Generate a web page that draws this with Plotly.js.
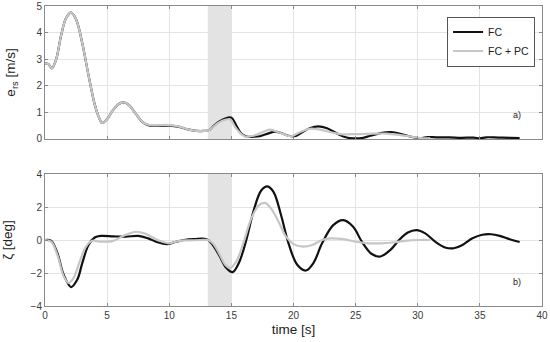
<!DOCTYPE html>
<html>
<head>
<meta charset="utf-8">
<script src="https://cdn.plot.ly/plotly-3.0.1.min.js"></script>
<style>html,body{margin:0;padding:0;background:#fff;}#chart{width:550px;height:342px;}</style>
</head>
<body>
<div id="chart"></div>
<script>
// ---- data ----
const seriesNames = ["FC", "FC + PC"];
const shadedInterval = [13.1, 15.0];

const tErsFC = [0,0.3,0.55,0.9,1.3,1.7,2.1,2.5,3.0,3.5,4.0,4.35,4.6,5.0,5.5,6.0,6.4,6.8,7.3,7.8,8.3,9.0,10.0,10.8,11.5,12.2,12.8,13.2,13.6,14.0,14.5,15.0,15.4,15.8,16.2,16.8,17.3,17.8,18.5,19.0,19.6,20.1,20.6,21.3,22.0,22.7,23.5,24.2,24.8,25.5,26.2,27.0,27.8,28.5,29.3,30.2,30.8,31.5,32.5,33.5,34.5,35.0,35.5,36.5,37.5,38.2];
const ersFC  = [2.85,2.8,2.65,3.0,3.9,4.55,4.75,4.5,3.6,2.4,1.3,0.8,0.6,0.75,1.1,1.33,1.37,1.25,0.95,0.65,0.52,0.5,0.5,0.45,0.36,0.3,0.3,0.33,0.5,0.65,0.77,0.8,0.5,0.2,0.09,0.08,0.1,0.18,0.27,0.22,0.12,0.1,0.22,0.4,0.47,0.4,0.2,0.06,0.02,0.03,0.12,0.22,0.26,0.2,0.1,0.03,0.07,0.06,0.06,0.04,0.05,0.02,0.06,0.05,0.04,0.03];

const tErsPC = [0,0.3,0.55,0.9,1.3,1.7,2.1,2.5,3.0,3.5,4.0,4.35,4.6,5.0,5.5,6.0,6.4,6.8,7.3,7.8,8.3,9.0,10.0,10.8,11.5,12.2,12.8,13.2,13.6,14.0,14.5,14.9,15.3,15.8,16.2,16.8,17.5,18.1,18.5,19.2,19.8,20.5,21.3,22.0,23.0,23.8,25.0,26.5,27.5,28.5,29.5,30.5,31.0];
const ersPC  = [2.85,2.8,2.65,3.0,3.9,4.55,4.75,4.5,3.6,2.4,1.3,0.8,0.6,0.75,1.1,1.33,1.37,1.25,0.95,0.65,0.53,0.52,0.52,0.46,0.36,0.3,0.3,0.33,0.48,0.62,0.72,0.74,0.45,0.18,0.08,0.12,0.25,0.35,0.3,0.18,0.1,0.25,0.38,0.36,0.25,0.18,0.18,0.2,0.2,0.15,0.08,0.02,0.03];

const tZetaFC = [0,0.5,1.0,1.5,2.1,2.6,3.0,3.5,4.0,4.5,5.5,6.5,7.5,8.3,9.0,9.8,10.5,11.2,12.0,13.0,13.4,14.0,14.6,15.1,15.6,16.2,16.8,17.4,17.9,18.4,19.0,19.6,20.3,21.0,21.6,22.3,23.2,24.0,24.8,25.5,26.3,27.0,27.8,28.5,29.2,29.9,30.6,31.4,32.2,32.9,33.6,34.4,35.2,35.9,36.6,37.4,38.2];
const zetaFC  = [0,-0.05,-0.8,-2.1,-2.85,-2.4,-1.4,-0.3,0.15,0.25,0.22,0.2,0.25,0.1,-0.12,-0.25,-0.12,0.0,0.05,0.05,-0.2,-0.9,-1.7,-1.95,-1.4,0.0,1.8,3.0,3.25,2.9,1.5,-0.2,-1.5,-1.85,-1.4,-0.2,0.9,1.2,0.8,-0.1,-0.85,-1.0,-0.6,0.0,0.45,0.6,0.4,-0.1,-0.45,-0.5,-0.3,0.1,0.32,0.35,0.25,0.05,-0.12];

const tZetaPC = [0,0.5,1.0,1.5,1.9,2.3,2.8,3.3,3.8,4.5,5.5,6.3,7.3,8.0,8.8,9.5,10.0,10.8,11.5,12.5,13.1,13.5,14.0,14.5,14.9,15.4,16.0,16.6,17.2,17.7,18.2,18.8,19.4,20.0,20.8,21.5,22.3,23.0,24.0,25.0,26.0,27.0,28.0,29.0,30.0,31.0];
const zetaPC  = [0,-0.1,-0.9,-2.2,-2.6,-2.3,-1.3,-0.4,-0.05,-0.1,-0.05,0.25,0.5,0.4,0.1,-0.12,-0.2,-0.05,-0.02,0.0,0.0,-0.2,-0.8,-1.5,-1.7,-1.3,-0.1,1.3,2.1,2.25,1.9,1.1,0.2,-0.25,-0.4,-0.3,0.0,0.1,0.05,-0.1,-0.2,-0.2,-0.15,-0.05,0.0,0.0];

const xTicks = [0,5,10,15,20,25,30,35,40];
const ersTicks = [0,1,2,3,4,5];
const zetaTicks = [-4,-2,0,2,4];

// ---- styles ----
const black = "#111111", gray = "#c6c6c6";
const fam = "Liberation Sans, Arial, sans-serif";
const tickFont = {family: fam, size: 10, color: "#3a3a3a"};
const titleFont = {family: fam, size: 13.5, color: "#222"};

const traces = [
  {x: tErsFC, y: ersFC, name: seriesNames[0], xaxis: "x", yaxis: "y", mode: "lines",
   line: {color: black, width: 2.2, shape: "spline", smoothing: 1}},
  {x: tErsPC, y: ersPC, name: seriesNames[1], xaxis: "x", yaxis: "y", mode: "lines",
   line: {color: gray, width: 2.2, shape: "spline", smoothing: 1}},
  {x: tZetaFC, y: zetaFC, name: seriesNames[0], xaxis: "x2", yaxis: "y2", mode: "lines", showlegend: false,
   line: {color: black, width: 2.2, shape: "spline", smoothing: 1}},
  {x: tZetaPC, y: zetaPC, name: seriesNames[1], xaxis: "x2", yaxis: "y2", mode: "lines", showlegend: false,
   line: {color: gray, width: 2.2, shape: "spline", smoothing: 1}}
];

const axisCommon = {
  showline: true, linecolor: "#8a8a8a", linewidth: 1, mirror: "ticks",
  ticks: "inside", ticklen: 3, tickcolor: "#8a8a8a",
  showgrid: true, gridcolor: "#e4e4e4", gridwidth: 1, zeroline: false,
  tickfont: tickFont
};

const layout = {
  width: 550, height: 342,
  margin: {l: 45, r: 8, t: 6, b: 36},
  paper_bgcolor: "#fff", plot_bgcolor: "#fff",
  showlegend: true,
  legend: {x: 0.809, y: 0.965, xanchor: "left", yanchor: "top",
           bordercolor: "#555", borderwidth: 1, bgcolor: "#fff",
           font: {family: fam, size: 10.5, color: "#222"},
           itemwidth: 30, tracegroupgap: 0},
  xaxis: Object.assign({}, axisCommon, {domain: [0, 1], range: [0, 40], tickvals: xTicks,
           showticklabels: false, anchor: "y"}),
  yaxis: Object.assign({}, axisCommon, {domain: [0.557, 1], range: [0, 5], tickvals: ersTicks,
           anchor: "x", title: {text: "e<sub>rs</sub> [m/s]", font: titleFont, standoff: 17}}),
  xaxis2: Object.assign({}, axisCommon, {domain: [0, 1], range: [0, 40], tickvals: xTicks,
           anchor: "y2", title: {text: "time [s]", font: titleFont, standoff: 4}}),
  yaxis2: Object.assign({}, axisCommon, {domain: [0, 0.44], range: [-4, 4], tickvals: zetaTicks,
           anchor: "x2", title: {text: "ζ [deg]", font: titleFont, standoff: 16}}),
  shapes: [
    {type: "rect", xref: "x", yref: "y domain", x0: shadedInterval[0], x1: shadedInterval[1], y0: 0, y1: 1,
     fillcolor: "#e3e3e3", line: {width: 0}, layer: "below"},
    {type: "rect", xref: "x2", yref: "y2 domain", x0: shadedInterval[0], x1: shadedInterval[1], y0: 0, y1: 1,
     fillcolor: "#e3e3e3", line: {width: 0}, layer: "below"}
  ],
  annotations: [
    {text: "a)", xref: "x", yref: "y", x: 38, y: 0.9, showarrow: false,
     font: {family: fam, size: 9, color: "#222"}},
    {text: "b)", xref: "x2", yref: "y2", x: 38, y: -2.55, showarrow: false,
     font: {family: fam, size: 9, color: "#222"}}
  ]
};

Plotly.newPlot("chart", traces, layout, {staticPlot: true, displayModeBar: false});
</script>
</body>
</html>
